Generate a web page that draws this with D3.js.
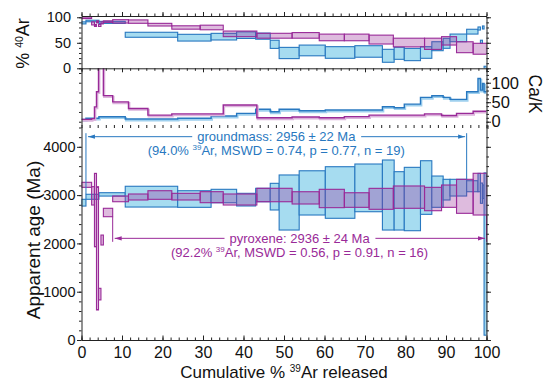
<!DOCTYPE html>
<html>
<head>
<meta charset="utf-8">
<title>Ar-Ar step heating spectra</title>
<script src="https://cdn.jsdelivr.net/npm/d3@7/dist/d3.min.js"></script>
<style>
  body { margin: 0; background: #fff; }
  svg { font-family: "Liberation Sans", Arial, Helvetica, sans-serif; }
  .axis path, .axis line { stroke: #222; stroke-width: 1; }
  .axis text { fill: #111; }
</style>
</head>
<body>
<div id="chart"></div>
<script>
// groundmass (blue) - step edges in cumulative % 39Ar
const gmEdges = [0, 1.1, 4.3, 10.8, 23.75, 32.0, 38.3, 43.0, 46.6, 48.8, 53.75, 60.2, 67.5, 74.3,
  77.2, 79.7, 83.7, 86.5, 89.3, 91.0, 95.1, 97.9, 98.5, 99.0, 99.4, 100];
const gmAge = [2843, 2965, 3015, 2968, 2919, 2981, 2906, 3002, 2968, 2847, 3046, 3054, 3150,
  3002, 2881, 2919, 3157, 3071, 3113, 3154, 3184, 3260, 3040, 3070, 1780];
const gmAgeErr = [70, 52, 35, 215, 172, 139, 131, 139, 276, 570, 458, 534, 494,
  725, 604, 656, 555, 324, 214, 173, 114, 190, 210, 140, 1680];
const gmAr40 = [89, 92.7, 90, 65.7, 60, 62, 65, 63, 47, 30, 35, 31, 33,
  24.5, 29.4, 27, 31, 43.3, 49, 59.6, 71.8, 78, 52, 80, 2];
const gmAr40Err = [2, 1.5, 2, 4.9, 6.6, 6.5, 6.5, 6, 8, 11, 10.5, 11.4, 11.3,
  12.7, 11.8, 12, 11.4, 8.8, 9.8, 7.5, 4.7, 3, 3, 3, 2];
const gmCaK = [6, 9, 12.8, 7, 8.7, 14.6, 21.5, 31.8, 25.6, 32, 28, 30, 30,
  38.5, 36, 45, 62.5, 66.7, 62.5, 57.4, 77, 111, 81, 98, 77];
const gmPlateau = [1, 19];        // first / last step in plateau
const gmLabel = "groundmass: 2956 ± 22 Ma";
const gmStats = ["(94.0% ", "Ar, MSWD = 0.74, p = 0.77, n = 19)"];

// pyroxene (purple)
const pxEdges = [0, 2.5, 3.2, 3.7, 4.2, 4.8, 5.4, 7.7, 11.6, 16.4, 22.3, 29.3, 35.0, 43.3,
  52.0, 58.7, 64.9, 71.0, 77.0, 84.7, 88.9, 92.6, 96.7, 100];
const pxAge = [3213, 2985, 2690, 1898, 950, 2070, 2640, 2922, 2961, 3002, 2968, 2957, 2909,
  3002, 2943, 2930, 2898, 2923, 2958, 2919, 2978, 2975, 3020];
const pxAgeErr = [52, 190, 760, 1276, 120, 103, 87, 59, 62, 89, 69, 114, 114,
  139, 127, 190, 151, 217, 231, 242, 231, 352, 432];
const pxAr40 = [99, 88, 84, 91, 84, 89, 91.5, 92, 91.5, 85.5, 80, 80, 67.5,
  63.8, 64.5, 60.5, 60.5, 56.3, 50.5, 48, 53.8, 41.3, 38.3];
const pxAr40Err = [1.5, 3, 2, 2, 2, 2, 1.5, 3.3, 3.3, 2.6, 3.3, 4.5, 5.5,
  4.8, 5.5, 6.5, 6.5, 8.7, 8.5, 11, 8.2, 10.7, 10.7];
const pxCaK = [6, 8, 38, 77, 200, 200, 67, 51, 34, 17, 20, 20, 43,
  10, 12, 10, 13, 17, 17, 20, 16, 21.5, 27];
const pxPlateau = [7, 22];
const pxLabel = "pyroxene: 2936 ± 24 Ma";
const pxStats = ["(92.2% ", "Ar, MSWD = 0.56, p = 0.91, n = 16)"];

// tick values
const xTicks = [0, 10, 20, 30, 40, 50, 60, 70, 80, 90, 100];
const ageTicks = [0, 1000, 2000, 3000, 4000];
const arTicks = [0, 50, 100];
const cakTicks = [0, 50, 100];

// ---- layout ----
const width = 544, height = 383;
const left = 81.5, right = 486.5;
const arTop = 16, arBottom = 68.3, cakBottom = 126, ageBottom = 340;
const gmArrowAge = 4210, pxArrowAge = 2105;   // level of the plateau brackets

const blue = "#2878c0", blueFill = "#a6dcf0";
const purple = "#992a98";

const x = d3.scaleLinear().domain([0, 100]).range([left, right]);
const yAr = d3.scaleLinear().domain([0, 102.5]).range([arBottom, arTop]);
const yCa = d3.scaleLinear().domain([-11, 137]).range([cakBottom, arBottom]);
const yAge = d3.scaleLinear().domain([0, 4431]).range([ageBottom, cakBottom]);

function toSteps(edges, age, ageErr, ar, arErr, cak) {
  return age.map((a, i) => ({
    from: edges[i], to: edges[i + 1], age: a, ageErr: ageErr[i],
    ar: ar[i], arErr: arErr[i], cak: cak[i]
  }));
}
const gm = toSteps(gmEdges, gmAge, gmAgeErr, gmAr40, gmAr40Err, gmCaK);
const px = toSteps(pxEdges, pxAge, pxAgeErr, pxAr40, pxAr40Err, pxCaK);

const svg = d3.select("#chart").append("svg")
  .attr("width", width).attr("height", height);
const defs = svg.append("defs");

[["clip-ar", arTop, arBottom], ["clip-ca", arBottom, cakBottom], ["clip-age", cakBottom, ageBottom]]
  .forEach(([id, y0, y1]) => {
    defs.append("clipPath").attr("id", id).append("rect")
      .attr("x", left).attr("y", y0).attr("width", right - left).attr("height", y1 - y0);
  });

[["arr-gm", blue], ["arr-px", purple]].forEach(([id, c]) => {
  defs.append("marker").attr("id", id)
    .attr("viewBox", "0 0 10 6").attr("refX", 10).attr("refY", 3)
    .attr("markerWidth", 7).attr("markerHeight", 4.5)
    .attr("markerUnits", "userSpaceOnUse").attr("orient", "auto")
    .append("path").attr("d", "M0,0L10,3L0,6Z").attr("fill", c);
});

// boxes (value +- error) for one panel
function drawBoxes(g, data, yScale, val, err, fill, fillOpacity, stroke) {
  g.selectAll(null).data(data).enter().append("rect")
    .attr("x", d => x(d.from))
    .attr("width", d => x(d.to) - x(d.from))
    .attr("y", d => yScale(d[val] + d[err]))
    .attr("height", d => yScale(d[val] - d[err]) - yScale(d[val] + d[err]))
    .attr("fill", fill).attr("fill-opacity", fillOpacity)
    .attr("stroke", stroke).attr("stroke-width", 1.1);
}

// %40Ar* panel
const arG = svg.append("g").attr("clip-path", "url(#clip-ar)");
drawBoxes(arG, gm, yAr, "ar", "arErr", blueFill, 1, blue);
drawBoxes(arG, px, yAr, "ar", "arErr", purple, 0.32, purple);

// Ca/K panel
const caG = svg.append("g").attr("clip-path", "url(#clip-ca)");
const stepLine = d3.line().x(d => x(d[0])).y(d => yCa(d[1]));
function stepPoints(data) {
  const pts = [];
  data.forEach(d => { pts.push([d.from, d.cak]); pts.push([d.to, d.cak]); });
  return pts;
}
[[gm, blue, "#9fd0ee"], [px, purple, "#dcb3dc"]].forEach(([data, c, light]) => {
  caG.append("path").attr("d", stepLine(stepPoints(data)))
    .attr("fill", "none").attr("stroke", light).attr("stroke-width", 2.2)
    .attr("transform", "translate(0.8,1.3)");
  caG.append("path").attr("d", stepLine(stepPoints(data)))
    .attr("fill", "none").attr("stroke", c).attr("stroke-width", 1.4);
});

// age panel
const ageG = svg.append("g").attr("clip-path", "url(#clip-age)");
drawBoxes(ageG, gm, yAge, "age", "ageErr", blueFill, 1, blue);
drawBoxes(ageG, px, yAge, "age", "ageErr", purple, 0.32, purple);

// plateau brackets and labels
function plateau(data, range, arrowAge, color, marker, label, stats, above) {
  const g = svg.append("g");
  const first = data[range[0]], last = data[range[1]];
  const x0 = x(first.from), x1 = x(last.to);
  const ya = yAge(arrowAge);
  const xc = (x0 + x1) / 2;

  const t1 = g.append("text").attr("x", xc).attr("y", ya + 4.5)
    .attr("text-anchor", "middle").attr("font-size", 13).attr("fill", color)
    .text(label);
  const t2 = g.append("text").attr("x", xc).attr("y", ya + 18.5)
    .attr("text-anchor", "middle").attr("font-size", 13).attr("fill", color);
  t2.append("tspan").text(stats[0]);
  t2.append("tspan").attr("font-size", 8).attr("dy", -5).text("39");
  t2.append("tspan").attr("dy", 5).text(stats[1]);

  const bb = t1.node().getBBox();
  g.append("line").attr("x1", bb.x - 5).attr("x2", x0 + 2)
    .attr("y1", ya).attr("y2", ya).attr("stroke", color).attr("stroke-width", 1)
    .attr("marker-end", `url(#${marker})`);
  g.append("line").attr("x1", bb.x + bb.width + 5).attr("x2", x1 - 1.5)
    .attr("y1", ya).attr("y2", ya).attr("stroke", color).attr("stroke-width", 1)
    .attr("marker-end", `url(#${marker})`);

  // end verticals reach from the arrow to the data
  const ends = [[x0, [data[range[0] - 1], first]], [x1, [last, data[range[1] + 1]]]];
  ends.forEach(([xe, nb]) => {
    const steps = nb.filter(Boolean);
    const yData = above
      ? d3.min(steps, d => yAge(d.age + d.ageErr))
      : d3.max(steps, d => yAge(d.age - d.ageErr));
    const yOut = above ? ya - 3.5 : ya + 3.5;
    g.append("line").attr("x1", xe).attr("x2", xe)
      .attr("y1", yOut).attr("y2", yData)
      .attr("stroke", color).attr("stroke-width", 1);
  });
}
plateau(gm, gmPlateau, gmArrowAge, blue, "arr-gm", gmLabel, gmStats, true);
plateau(px, pxPlateau, pxArrowAge, purple, "arr-px", pxLabel, pxStats, false);

// ---- axes ----
const minorX = d3.range(0, 100.01, 2);
const fmt = d3.format("d");
function addAxis(axis, tr, noDomain) {
  const g = svg.append("g").attr("class", "axis").attr("transform", tr).call(axis);
  if (noDomain) g.select(".domain").remove();
  return g;
}
// bottom of age panel
addAxis(d3.axisBottom(x).tickValues(minorX).tickSize(-2.5).tickSizeOuter(0).tickFormat(""),
  `translate(0,${ageBottom})`);
addAxis(d3.axisBottom(x).tickValues(xTicks).tickSize(-4.5).tickSizeOuter(0).tickPadding(6.5).tickFormat(fmt),
  `translate(0,${ageBottom})`, true)
  .selectAll("text").attr("font-size", 16);
// top of %40Ar panel, bottom of %40Ar panel, bottom of Ca/K panel
addAxis(d3.axisTop(x).tickValues(minorX).tickSize(2.5).tickSizeOuter(0).tickFormat(""),
  `translate(0,${arTop})`);
addAxis(d3.axisTop(x).tickValues(xTicks).tickSize(4).tickSizeOuter(0).tickFormat(""),
  `translate(0,${arTop})`, true);
addAxis(d3.axisBottom(x).tickValues(minorX).tickSize(2.5).tickSizeOuter(0).tickFormat(""),
  `translate(0,${arBottom})`);
addAxis(d3.axisBottom(x).tickValues(xTicks).tickSize(4).tickSizeOuter(0).tickFormat(""),
  `translate(0,${arBottom})`, true);
addAxis(d3.axisBottom(x).tickValues(minorX).tickSize(3).tickSizeOuter(0).tickFormat(""),
  `translate(0,${cakBottom - 1})`, true);

// age axes
addAxis(d3.axisLeft(yAge).tickValues(d3.range(0, 4401, 200)).tickSize(2.5).tickSizeOuter(0).tickFormat(""),
  `translate(${left},0)`);
addAxis(d3.axisLeft(yAge).tickValues(ageTicks).tickSize(4.5).tickPadding(1.5).tickSizeOuter(0).tickFormat(fmt),
  `translate(${left},0)`, true)
  .selectAll("text").attr("font-size", 14.5);
addAxis(d3.axisRight(yAge).tickValues(d3.range(0, 4401, 200)).tickSize(2.5).tickSizeOuter(0).tickFormat(""),
  `translate(${right},0)`);
addAxis(d3.axisRight(yAge).tickValues(ageTicks).tickSize(4.5).tickSizeOuter(0).tickFormat(""),
  `translate(${right},0)`, true);

// %40Ar axes
addAxis(d3.axisLeft(yAr).tickValues(d3.range(0, 101, 10)).tickSize(2.5).tickSizeOuter(0).tickFormat(""),
  `translate(${left},0)`);
addAxis(d3.axisLeft(yAr).tickValues(arTicks).tickSize(4.5).tickPadding(6).tickSizeOuter(0).tickFormat(fmt),
  `translate(${left},0)`, true)
  .selectAll("text").attr("font-size", 14.5);
addAxis(d3.axisRight(yAr).tickValues(d3.range(0, 101, 10)).tickSize(2.5).tickSizeOuter(0).tickFormat(""),
  `translate(${right},0)`);
addAxis(d3.axisRight(yAr).tickValues(arTicks).tickSize(4.5).tickSizeOuter(0).tickFormat(""),
  `translate(${right},0)`, true);

// Ca/K axes
addAxis(d3.axisLeft(yCa).tickValues(d3.range(0, 131, 25)).tickSize(2.5).tickSizeOuter(0).tickFormat(""),
  `translate(${left},0)`);
addAxis(d3.axisRight(yCa).tickValues(d3.range(-10, 131, 10)).tickSize(2.5).tickSizeOuter(0).tickFormat(""),
  `translate(${right},0)`);
addAxis(d3.axisRight(yCa).tickValues(cakTicks).tickSize(4.5).tickPadding(0.5).tickSizeOuter(0).tickFormat(fmt),
  `translate(${right},0)`, true)
  .selectAll("text").attr("font-size", 16.5);

// ---- axis titles ----
const xt = svg.append("text").attr("x", 284).attr("y", 378)
  .attr("text-anchor", "middle").attr("font-size", 17).attr("fill", "#111");
xt.append("tspan").text("Cumulative % ");
xt.append("tspan").attr("font-size", 10).attr("dy", -6).text("39");
xt.append("tspan").attr("dy", 6).text("Ar released");

svg.append("text").attr("transform", "translate(40,240) rotate(-90)")
  .attr("text-anchor", "middle").attr("font-size", 19).attr("fill", "#111")
  .text("Apparent age (Ma)");

const at = svg.append("text").attr("transform", "translate(29,43.5) rotate(-90)")
  .attr("text-anchor", "middle").attr("font-size", 18).attr("fill", "#111");
at.append("tspan").text("% ");
at.append("tspan").attr("font-size", 10.5).attr("dy", -6.5).text("40");
at.append("tspan").attr("dy", 6.5).text("Ar");

svg.append("text").attr("transform", "translate(529,94) rotate(90)")
  .attr("text-anchor", "middle").attr("font-size", 17.5).attr("fill", "#111")
  .text("Ca/K");
</script>
</body>
</html>
